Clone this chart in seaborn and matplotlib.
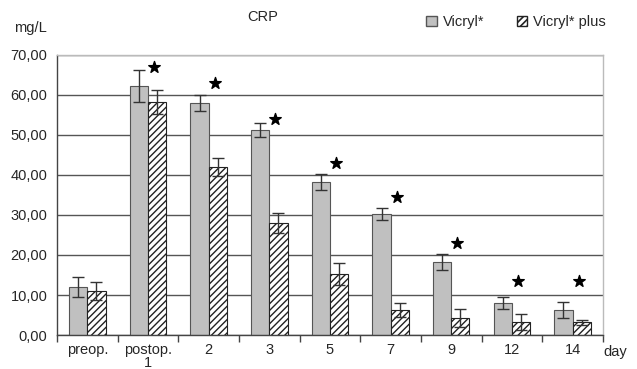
import matplotlib
matplotlib.use("Agg")
import matplotlib.pyplot as plt
from matplotlib.patches import Patch
from matplotlib.ticker import FuncFormatter, FixedLocator
import numpy as np
import pandas as pd
import seaborn as sns

days = ["preop.", "postop.\n1", "2", "3", "5", "7", "9", "12", "14"]
vicryl = [12.0, 62.2, 58.0, 51.2, 38.2, 30.2, 18.2, 8.0, 6.2]
vicryl_err = [2.6, 4.0, 2.0, 1.7, 2.0, 1.5, 2.0, 1.4, 2.0]
plus = [11.0, 58.2, 42.0, 28.0, 15.2, 6.2, 4.2, 3.3, 3.2]
plus_err = [2.3, 3.0, 2.3, 2.5, 2.8, 1.8, 2.3, 2.0, 0.6]
star_y = [np.nan, 67.0, 63.0, 54.0, 43.0, 34.5, 23.0, 13.5, 13.5]
groups = ["Vicryl*", "Vicryl* plus"]

df = pd.DataFrame({
    "day": days * 2,
    "crp": vicryl + plus,
    "group": [groups[0]] * len(days) + [groups[1]] * len(days),
})

sns.set_style("white")
plt.rcParams["font.family"] = ["Liberation Sans", "DejaVu Sans"]
fs = 10.5

fig = plt.figure(figsize=(6.37, 3.69), dpi=100)
ax = fig.add_axes([0.0895, 0.0921, 0.857, 0.759])

ax.set_axisbelow(True)
ax.yaxis.grid(True, color="#555555", linewidth=1.0)

sns.barplot(data=df, x="day", y="crp", hue="group", order=days,
            hue_order=groups, palette=["#c0c0c0", "white"], width=0.6,
            edgecolor="#555555", linewidth=0.8, errorbar=None,
            legend=False, ax=ax)

plt.rcParams["hatch.linewidth"] = 1.2
n = len(days)
bars = ax.patches[:2 * n]
for p in bars[n:]:
    p.set_hatch("/////")
    p.set_edgecolor("#222222")

for ser, errs, ps in [(vicryl, vicryl_err, bars[:n]), (plus, plus_err, bars[n:])]:
    xs = [p.get_x() + p.get_width() / 2 for p in ps]
    ax.errorbar(xs, ser, yerr=errs, fmt="none", ecolor="#333333",
                elinewidth=1.0, capsize=4, capthick=1.0, zorder=5)

ax.scatter(np.arange(n) + 0.1, star_y, marker="*", s=75, color="black",
           zorder=6)

ax.set_ylim(0, 70)
ax.set_xlim(-0.5, n - 0.5)
ax.set_yticks(np.arange(0, 71, 10))
ax.yaxis.set_major_formatter(FuncFormatter(lambda v, _: f"{v:.2f}".replace(".", ",")))
ax.set_xlabel("")
ax.set_ylabel("")
ax.set_xticks(range(n))
ax.set_xticklabels(days, fontsize=fs, linespacing=0.9)
ax.xaxis.set_minor_locator(FixedLocator(np.arange(-0.5, n, 1.0)))
ax.tick_params(axis="x", which="major", length=0, pad=6)
ax.tick_params(axis="x", which="minor", length=5, width=1, color="#444444",
               direction="out", bottom=True)
ax.tick_params(axis="y", length=5, width=1, color="#444444", direction="out",
               labelsize=fs, pad=2)

for s in ["left", "bottom"]:
    ax.spines[s].set_color("#444444")
    ax.spines[s].set_linewidth(1.0)
for s in ["top", "right"]:
    ax.spines[s].set_color("#bbbbbb")
    ax.spines[s].set_linewidth(1.0)

fig.text(0.412, 0.955, "CRP", ha="center", va="center", fontsize=fs)
fig.text(0.048, 0.925, "mg/L", ha="center", va="center", fontsize=fs)
fig.text(0.966, 0.046, "day", ha="center", va="center", fontsize=fs)

handles = [Patch(facecolor="#c0c0c0", edgecolor="#555555", label=groups[0]),
           Patch(facecolor="white", edgecolor="#222222", hatch="/////",
                 label=groups[1])]
fig.legend(handles=handles, loc="center right", bbox_to_anchor=(0.972, 0.94),
           ncol=2, frameon=False, fontsize=fs, handlelength=0.75,
           handleheight=0.75, handletextpad=0.4, columnspacing=2.2)

fig.savefig("out.png", dpi=100, facecolor="white")
